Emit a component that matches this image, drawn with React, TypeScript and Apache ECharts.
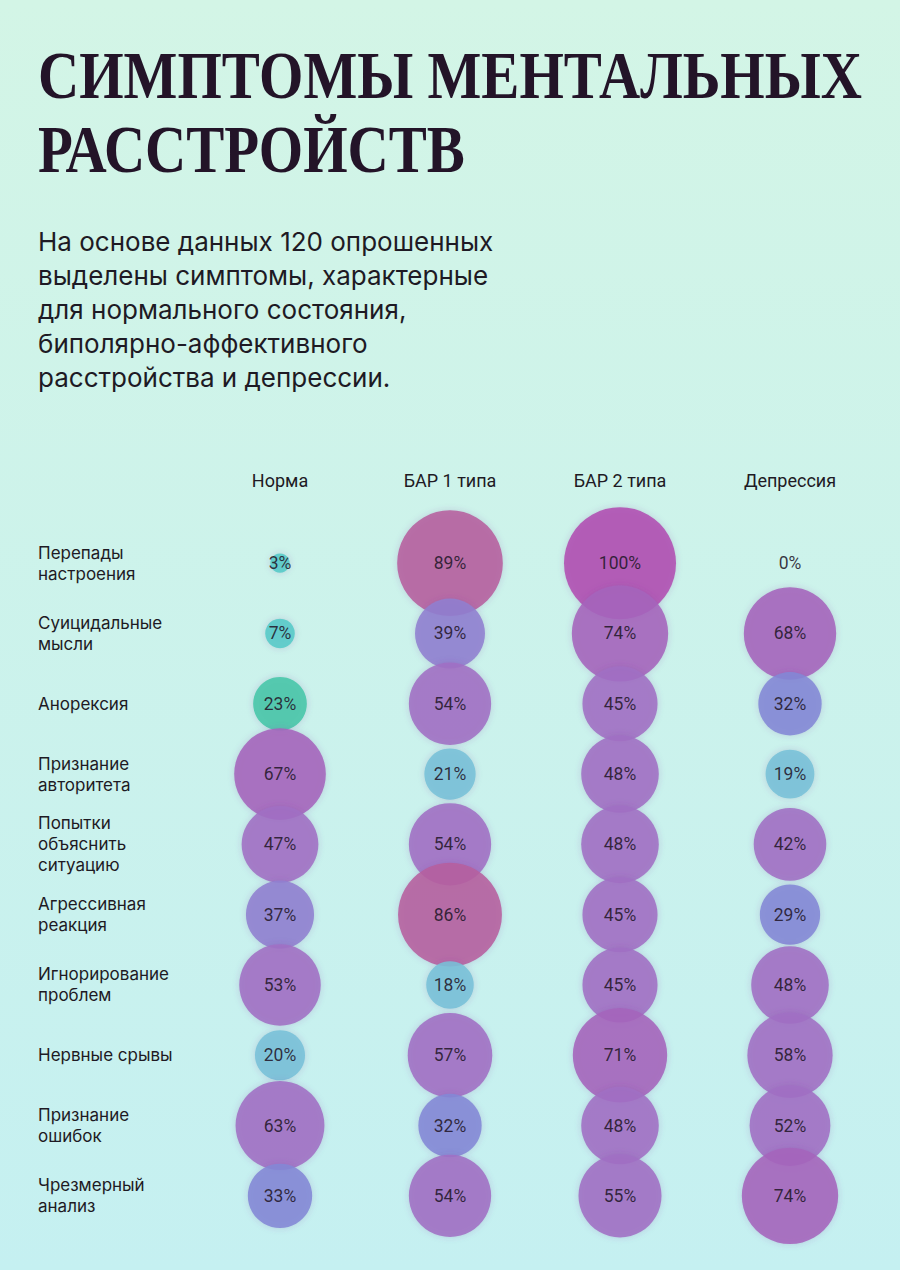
import React, { useEffect, useRef } from "react";
import * as echarts from "echarts";

const titleLines = ["СИМПТОМЫ МЕНТАЛЬНЫХ", "РАССТРОЙСТВ"];
const subtitle =
  "На основе данных 120 опрошенных\nвыделены симптомы, характерные\nдля нормального состояния,\nбиполярно-аффективного\nрасстройства и депрессии.";

const groups = ["Норма", "БАР 1 типа", "БАР 2 типа", "Депрессия"];
const symptoms = [
  "Перепады\nнастроения",
  "Суицидальные\nмысли",
  "Анорексия",
  "Признание\nавторитета",
  "Попытки\nобъяснить\nситуацию",
  "Агрессивная\nреакция",
  "Игнорирование\nпроблем",
  "Нервные срывы",
  "Признание\nошибок",
  "Чрезмерный\nанализ",
];

const norma = [3, 7, 23, 67, 47, 37, 53, 20, 63, 33];
const bar1 = [89, 39, 54, 21, 54, 86, 18, 57, 32, 54];
const bar2 = [100, 74, 45, 48, 48, 45, 45, 71, 48, 55];
const depression = [0, 68, 32, 19, 42, 29, 48, 58, 52, 74];

const columns = [norma, bar1, bar2, depression];

export default function App() {
  const ref = useRef<HTMLDivElement>(null);

  useEffect(() => {
    if (!ref.current) return;
    const chart = echarts.init(ref.current, null, { renderer: "svg" });

    const titleFont = 'bold 68px "Liberation Serif"';
    let sx = 0.855;
    try {
      const c = document.createElement("canvas").getContext("2d");
      if (c) {
        c.font = titleFont;
        const w = c.measureText(titleLines[0]).width;
        if (w > 0) sx = 824 / w;
      }
    } catch (e) {}

    const data: any[] = [];
    columns.forEach((col, ci) => {
      col.forEach((v, ri) => {
        data.push([ci, ri, v]);
      });
    });

    const titleStyle = {
      fontSize: 68,
      fontWeight: "bold",
      fontFamily: '"Liberation Serif", serif',
      fill: "#231428",
      align: "left",
      verticalAlign: "middle",
      shadowColor: "rgba(30,30,50,0.5)",
      shadowBlur: 9,
      shadowOffsetX: 1,
      shadowOffsetY: 3,
    };

    chart.setOption({
      animation: false,
      backgroundColor: {
        type: "linear",
        x: 0,
        y: 0,
        x2: 0,
        y2: 1,
        colorStops: [
          { offset: 0, color: "#d3f5e6" },
          { offset: 1, color: "#c5f0f1" },
        ],
      },
      graphic: [
        {
          type: "text",
          x: 38,
          y: 75,
          scaleX: sx,
          style: { ...titleStyle, text: titleLines[0] },
        },
        {
          type: "text",
          x: 38,
          y: 149,
          scaleX: sx,
          style: { ...titleStyle, text: titleLines[1] },
        },
        {
          type: "text",
          x: 38,
          y: 224,
          style: {
            text: subtitle,
            fontSize: 26,
            lineHeight: 34,
            fontFamily: "Inter, sans-serif",
            fill: "#1e1a24",
            align: "left",
            verticalAlign: "top",
            shadowColor: "rgba(30,20,40,0.25)",
            shadowBlur: 3,
            shadowOffsetY: 1,
          },
        },
      ],
      grid: { left: 195, right: 25, top: 528, height: 703 },
      xAxis: {
        type: "category",
        position: "top",
        data: groups,
        axisLine: { show: false },
        axisTick: { show: false },
        splitLine: { show: false },
        axisLabel: {
          margin: 39,
          fontSize: 18,
          fontFamily: "Roboto, sans-serif",
          color: "#1e1a24",
        },
      },
      yAxis: {
        type: "category",
        inverse: true,
        data: symptoms,
        axisLine: { show: false },
        axisTick: { show: false },
        splitLine: { show: false },
        axisLabel: {
          margin: 157,
          align: "left",
          fontSize: 17,
          lineHeight: 21,
          fontFamily: "Inter, sans-serif",
          color: "#1e1a24",
        },
      },
      visualMap: {
        type: "piecewise",
        show: false,
        dimension: 2,
        pieces: [
          { gte: 0, lt: 10, color: "#55c9c8" },
          { gte: 10, lt: 22, color: "#78c0d8" },
          { gte: 22, lt: 25, color: "#45c6a8" },
          { gte: 25, lt: 36, color: "#8388d6" },
          { gte: 36, lt: 41, color: "#8f7fd0" },
          { gte: 41, lt: 65, color: "#a06fc4" },
          { gte: 65, lt: 80, color: "#a564bc" },
          { gte: 80, lt: 95, color: "#b65e9e" },
          { gte: 95, lte: 101, color: "#b04db2" },
        ],
      },
      series: [
        {
          type: "scatter",
          data,
          symbolSize: (v: number[]) => 112 * Math.sqrt(v[2] / 100),
          itemStyle: {
            opacity: 0.88,
            shadowBlur: 6,
            shadowColor: "rgba(120,60,150,0.25)",
          },
          label: {
            show: true,
            position: "inside",
            formatter: (p: any) => p.value[2] + "%",
            fontSize: 17.5,
            fontFamily: "Roboto, sans-serif",
            color: "#24182a",
          },
        },
      ],
    });

    return () => chart.dispose();
  }, []);

  return (
    <div
      ref={ref}
      style={{ position: "fixed", left: 0, top: 0, width: 900, height: 1270 }}
    />
  );
}
